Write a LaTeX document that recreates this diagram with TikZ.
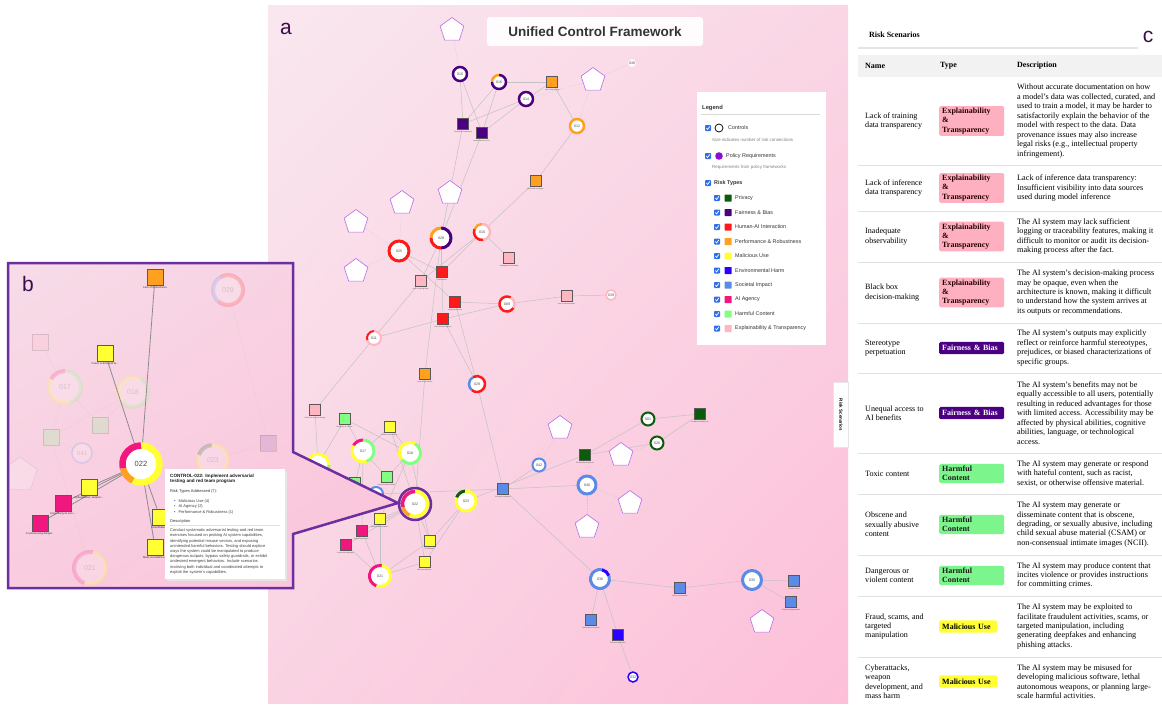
\documentclass[tikz,border=0pt]{standalone}
\usepackage{fontspec}
\setmainfont{Liberation Serif}
\setsansfont{Liberation Sans}
\usetikzlibrary{calc,shapes.geometric,positioning,shadings}
\pgfdeclarelayer{back}
\pgfdeclarelayer{aedges}
\pgfdeclarelayer{bback}
\pgfdeclarelayer{bedges}
\pgfdeclarelayer{bfront}
\pgfsetlayers{back,aedges,main,bback,bedges,bfront}

\definecolor{privacy}{HTML}{0A5C0A}
\definecolor{fairness}{HTML}{4B0082}
\definecolor{humanai}{HTML}{FF1A1A}
\definecolor{perf}{HTML}{FFA021}
\definecolor{malicious}{HTML}{FFFF33}
\definecolor{env}{HTML}{2B00FF}
\definecolor{societal}{HTML}{5B8BE6}
\definecolor{agency}{HTML}{F0177F}
\definecolor{harmful}{HTML}{80FF80}
\definecolor{explain}{HTML}{FFB6C1}
\definecolor{polline}{HTML}{B86BE8}
\definecolor{polfill}{HTML}{8A0FD6}
\definecolor{bframe}{HTML}{6B2FA0}
\definecolor{panellab}{HTML}{3A0B4E}
\definecolor{chkblue}{HTML}{2F6FE8}
\definecolor{exfill}{HTML}{FFB0C0}
\definecolor{hcfill}{HTML}{7DF58D}
\definecolor{pkA}{HTML}{F9E7EF}
\definecolor{pkB}{HTML}{FAD6E5}
\definecolor{pkC}{HTML}{FAD3E3}
\definecolor{pkD}{HTML}{FDBFD8}
\definecolor{pbA}{HTML}{F7DCE8}
\definecolor{pbB}{HTML}{F9CFE1}
\definecolor{pbC}{HTML}{F9CCDF}
\definecolor{pbD}{HTML}{FBC3DA}

% control node with a ring of risk colours
\newcommand{\ctrl}[6]{%
  \node[ctrlnode,minimum size=#3*2pt] (#1) at (#2) {#5};
  \foreach \sa/\ea/\cc in {#6}
    \draw[draw=\cc,line width=#4pt] ($(#1.center)+(\sa:#3pt)$) arc[start angle=\sa,end angle=\ea,radius=#3pt];}
\newcommand{\risk}[4]{%
  \node[risk,fill=#3] (#1) at (#2) {};
  \node[rlab,below=0.6pt of #1] (#1-lab) {#4};}
\newcommand{\chk}[1]{%
  \fill[chkblue,rounded corners=0.8pt] ($(#1)+(-3pt,-3pt)$) rectangle ($(#1)+(3pt,3pt)$);
  \draw[white,line width=0.7pt] ($(#1)+(-1.7pt,0pt)$) -- ($(#1)+(-0.4pt,-1.4pt)$) -- ($(#1)+(1.8pt,1.6pt)$);}
\newcommand{\riskrow}[6]{%
  \draw[rowline] (858,#2) -- (1162,#2);
  \node[namecell] (n#1) at (865,{(#1+#2)/2}) {#3};
  \node[#4] (t#1) at (939,{(#1+#2)/2}) {#5};
  \node[desccell] (d#1) at (1017,{(#1+#2)/2}) {#6};}

\begin{document}
\begin{tikzpicture}[x=1pt,y=-1pt,
  edge/.style={draw=black!24,line width=0.5pt},
  poledge/.style={draw=black!20,line width=0.5pt,densely dotted},
  bedge/.style={draw=black!45,line width=0.8pt},
  risk/.style={draw=black!65,line width=0.7pt,minimum size=11.5pt,inner sep=0pt},
  bigrisk/.style={risk,minimum size=16pt,line width=0.9pt},
  rlab/.style={font=\sffamily\fontsize{1.7}{2}\selectfont,text=black!70,inner sep=0.2pt},
  blab/.style={font=\sffamily\fontsize{2.7}{3}\selectfont,text=black!80,inner sep=0.3pt},
  policy/.style={regular polygon,regular polygon sides=5,draw=polline,fill=white,line width=0.6pt,minimum size=25pt,inner sep=0pt},
  ctrlnode/.style={circle,fill=white,inner sep=0pt,font=\sffamily\fontsize{3.6}{4}\selectfont,text=black!70},
  plab/.style={font=\sffamily\fontsize{21}{22}\selectfont,text=panellab,inner sep=0pt},
  legtext/.style={anchor=west,inner sep=0pt,font=\sffamily\fontsize{5.4}{6}\selectfont,text=black!80},
  legsub/.style={anchor=west,inner sep=0pt,font=\sffamily\fontsize{4.4}{5}\selectfont,text=black!50},
  tiptext/.style={anchor=north west,inner sep=0pt,align=left,font=\sffamily\fontsize{4}{5.2}\selectfont,text=black!80},
  rowline/.style={draw=black!12,line width=0.8pt},
  namecell/.style={anchor=west,inner sep=0pt,align=left,font=\fontsize{8.1}{9.45}\selectfont},
  desccell/.style={anchor=west,inner sep=0pt,align=left,font=\fontsize{8.2}{9.45}\selectfont},
  badge/.style={anchor=west,rounded corners=1.5pt,inner xsep=3pt,inner ysep=3.4pt,align=left,font=\bfseries\fontsize{8}{9.2}\selectfont},
  exbadge/.style={badge,inner ysep=2pt,fill=exfill,text=black!85!red,text width=59pt},
  fabadge/.style={badge,fill=fairness,text=white,text width=59pt},
  hcbadge/.style={badge,inner ysep=2.2pt,fill=hcfill,text=black!90,text width=59pt},
  mubadge/.style={badge,fill=malicious,text=black,text width=52pt}]

\useasboundingbox (0,0) rectangle (1162,705);

% ---------- panel a ----------
\begin{pgfonlayer}{back}
\fill[white] (0,0) rectangle (1162,705);
\shade[upper left=pkA,upper right=pkB,lower left=pkC,lower right=pkD] (268,5) rectangle (848,703);
\end{pgfonlayer}

\foreach \nm/\ps in {p1/{452,30},p2/{450,193},p3/{402,203},p4/{356,222},p5/{593,80},p6/{356,271},
  p7/{560,428},p8/{621,455},p9/{630,503},p10/{587,527},p11/{762,622}}
  {\node[policy] (\nm) at (\ps) {};}

\foreach \nm/\ps/\cl/\txt in {
  r1/{552,82}/perf/{Lack of monitoring},
  r2/{463,124}/fairness/{Stereotype perpetuation},
  r3/{482,133}/fairness/{Unequal access to AI...},
  r4/{536,181}/perf/{Model drift and degra...},
  r5/{442,272}/humanai/{Overreliance},
  r6/{421,281}/explain/{Lack of training data...},
  r7/{509,258}/explain/{Inadequate observability},
  r8/{455,302}/humanai/{Inappropriate trust},
  r9/{443,319}/humanai/{Loss of human agency},
  r10/{567,296}/explain/{Lack of inference data...},
  r11/{425,374}/perf/{Lack of Robustness},
  r12/{315,410}/explain/{Black box decision-making},
  r13/{345,419}/harmful/{Dangerous or violent...},
  r14/{390,427}/malicious/{Fraud, scams and ta...},
  r15/{387,477}/harmful/{Obscene and sexually...},
  r16/{355,483}/harmful/{Toxic content},
  r17/{380,519}/malicious/{Cyberattacks, weapon...},
  r18/{362,531}/agency/{AI pursuing its own ...},
  r19/{346,545}/agency/{AI possessing danger...},
  r20/{430,541}/malicious/{Coordinated...},
  r21/{425,562}/malicious/{Mass surveillance...},
  r22/{503,489}/societal/{Economic disruption},
  r23/{585,455}/privacy/{Personal data exposure},
  r24/{700,414}/privacy/{Unauthorized data use},
  r25/{680,588}/societal/{Power concentration},
  r26/{794,581}/societal/{Erosion of trust},
  r27/{791,602}/societal/{Cultural homogenization},
  r28/{591,620}/societal/{Information ecosystem},
  r29/{618,635}/env/{Environmental costs}}
  {\risk{\nm}{\ps}{\cl}{\txt}}

\ctrl{c015}{460,74}{7}{2.5}{015}{0/360/fairness}
\ctrl{c016}{499,82}{7}{2.5}{016}{90/180/perf,180/450/fairness}
\ctrl{c014}{526,99}{7}{2.5}{014}{0/360/fairness}
\ctrl{c012}{577,126}{7}{2.5}{012}{0/360/perf}
\ctrl{c038}{632,63}{4.5}{1}{038}{0/360/explain!50}
\ctrl{c028}{441,238}{10}{3}{028}{-90/90/fairness,90/180/perf,180/270/humanai}
\ctrl{c010}{482,232}{8}{2.5}{010}{90/160/perf,160/280/humanai,280/450/explain}
\ctrl{c025}{399,251}{10}{3}{025}{0/360/humanai}
\ctrl{c009}{507,304}{7.5}{2.5}{009}{60/330/humanai,-30/60/explain}
\ctrl{c011}{374,338}{7}{2}{011}{90/200/humanai,200/450/explain}
\ctrl{c039}{611,295}{5}{1.5}{039}{0/360/explain}
\ctrl{c029}{477,384}{8}{2.5}{029}{120/230/societal,230/480/humanai}
\ctrl{c017}{363,451}{11}{3}{017}{90/150/agency,150/290/malicious,290/450/harmful}
\ctrl{c018}{410,453}{10.5}{3}{018}{60/220/malicious,220/420/harmful}
\ctrl{c019}{318,465}{11}{3}{}{0/180/malicious,180/360/harmful}
\ctrl{c041}{376,494}{7}{2}{}{0/360/societal}
\ctrl{c022}{415,504}{12.5}{3.5}{022}{-116/90/malicious,-167/-116/perf,90/193/agency}
\draw[bframe,line width=2.5pt] (c022.center) circle[radius=16pt];
\ctrl{c023}{466,501}{10}{3}{023}{95/160/privacy,160/455/malicious}
\ctrl{c021}{380,576}{10.5}{3}{021}{80/250/agency,250/440/malicious}
\ctrl{c042}{539,465}{6.5}{2}{042}{0/360/societal}
\ctrl{c001}{648,419}{6.5}{2}{001}{0/360/privacy}
\ctrl{c026}{657,443}{6.5}{2}{026}{0/360/privacy}
\ctrl{c040}{587,485}{9}{3}{040}{0/360/societal}
\ctrl{c036}{600,579}{9.5}{3}{036}{20/80/env,80/380/societal}
\ctrl{c035}{752,580}{9.5}{3}{035}{0/360/societal}
\ctrl{c032}{633,677}{5}{1.5}{032}{0/360/env}

\begin{pgfonlayer}{aedges}
\foreach \u/\v in {c015/r2,c015/r3,c016/r2,c016/r3,c016/r1,c014/r2,c014/r3,c014/r1,c012/r1,c012/r4,
  c028/r2,c028/r3,c028/r5,c028/r9,c028/r6,c028/r11,c025/r5,c025/r8,c010/r4,c010/r5,c010/r6,c010/r7,
  c009/r8,c009/r9,c009/r10,c039/r10,c011/r6,c011/r9,c011/r12,c029/r8,c029/r9,c029/r22,
  c017/r13,c017/r14,c017/r15,c017/r16,c017/r18,c018/r13,c018/r14,c018/r15,c018/r17,c018/r20,
  c019/r12,c019/r13,c019/r16,c041/r22,c022/r11,c022/r14,c022/r17,c022/r18,c022/r19,c022/r20,c022/r21,
  c023/r20,c023/r21,c023/r23,c021/r17,c021/r18,c021/r19,c021/r20,c021/r21,c042/r22,c040/r22,
  c001/r23,c001/r24,c026/r24,c026/r23,c036/r22,c036/r25,c036/r28,c036/r29,c032/r29,
  c035/r25,c035/r26,c035/r27}
  \draw[edge] (\u) -- (\v);
\foreach \u/\v in {p1/c015,p5/c014,p5/c012,p5/c038,p2/c028,p3/c025,p4/c025,p6/c025,
  p7/c042,p8/c040,p8/c026,p9/c040,p10/c040,p11/c035}
  \draw[poledge] (\u) -- (\v);
\end{pgfonlayer}

\node[plab] (la) at (286,29) {a};
\node[fill=white,fill opacity=0.92,text opacity=1,rounded corners=3pt,minimum width=216pt,minimum height=29pt,
  font=\sffamily\bfseries\fontsize{13.5}{16}\selectfont,text=black!80] (title) at (595,31.5) {Unified Control Framework};

% legend
\fill[white] (697,92) rectangle (826,345);
\node[legtext,font=\sffamily\bfseries\fontsize{5.8}{6}\selectfont] (legt) at (702,108) {Legend};
\draw[black!15,line width=0.6pt] (701,114) -- (820,114);
\chk{708,128}
\draw[black!85,line width=0.9pt] (719,128) circle[radius=4pt];
\node[legtext] (lctrl) at (728,128) {Controls};
\node[legsub] (lsize) at (712,140) {Size indicates number of risk connections};
\chk{708,156}
\fill[polfill] (719,156) circle[radius=3.8pt];
\node[legtext] (lpol) at (726,156) {Policy Requirements};
\node[legsub] (lreq) at (712,167) {Requirements from policy frameworks};
\chk{708,183}
\node[legtext,font=\sffamily\bfseries\fontsize{5.4}{6}\selectfont] (lrisk) at (714,183) {Risk Types};
\foreach \cl/\txt [count=\i from 0] in {privacy/Privacy,fairness/Fairness \& Bias,humanai/Human-AI Interaction,
  perf/Performance \& Robustness,malicious/Malicious Use,env/Environmental Harm,societal/Societal Impact,
  agency/AI Agency,harmful/Harmful Content,explain/Explainability \& Transparency}{
  \pgfmathsetmacro\yy{198+14.5*\i}
  \chk{717,\yy}
  \fill[\cl,rounded corners=0.5pt] (724.5,\yy-3.5) rectangle (731.5,\yy+3.5);
  \node[legtext] (leg\i) at (735,\yy) {\txt};}

\node[draw=black!10,fill=white,rotate=-90,minimum width=65pt,minimum height=15pt,
  font=\sffamily\bfseries\fontsize{4.5}{5}\selectfont] (rstab) at (841,415) {Risk Scenarios};

% ---------- panel b ----------
\begin{pgfonlayer}{bback}
\shade[upper left=pbA,upper right=pbB,lower left=pbC,lower right=pbD]
  (8,263) -- (293,263) -- (293,452) -- (398,503) -- (293,534) -- (293,588) -- (8,588) -- cycle;
\draw[bframe,line width=2.5pt,line join=miter]
  (8,263) -- (293,263) -- (293,452) -- (398,503) -- (293,534) -- (293,588) -- (8,588) -- cycle;
\end{pgfonlayer}

\begin{pgfonlayer}{bedges}
\begin{scope}[opacity=0.2]
  \clip (10,265) rectangle (291,586);
  \node[bigrisk,fill=explain] (f1) at (40,342) {};
  \node[bigrisk,fill=harmful] (f2) at (100,425) {};
  \node[bigrisk,fill=harmful] (f3) at (51,437) {};
  \node[bigrisk,fill=fairness!60] (f4) at (268,443) {};
  \node[policy,minimum size=36pt] (f5) at (20,475) {};
  \ctrl{f017}{65,387}{16}{4}{\fontsize{7}{8}\selectfont 017}{90/150/agency,150/290/malicious,290/450/harmful}
  \ctrl{f018}{133,392}{15}{4}{\fontsize{7}{8}\selectfont 018}{60/220/malicious,220/420/harmful}
  \ctrl{f029}{228,290}{15}{4}{\fontsize{7}{8}\selectfont 029}{120/230/societal,230/480/humanai}
  \ctrl{f023}{213,460}{15}{4}{\fontsize{7}{8}\selectfont 023}{95/160/privacy,160/455/malicious}
  \ctrl{f021}{90,568}{16}{4}{\fontsize{7}{8}\selectfont 021}{80/250/agency,250/440/malicious}
  \ctrl{f041}{82,453}{10}{1.5}{\fontsize{6}{7}\selectfont 041}{0/360/societal}
  \foreach \u/\v in {f017/f1,f017/f2,f017/f3,f018/f2,f018/f3,f041/f3,f029/f4,f023/f4,f021/f3}
    \draw[edge] (\u) -- (\v);
\end{scope}
\end{pgfonlayer}

\begin{pgfonlayer}{bfront}
\ctrl{b022}{141,464}{18.5}{6.5}{\fontsize{7.5}{8}\selectfont 022}{-116/90/malicious,-167/-116/perf,90/193/agency}
\foreach \nm/\ps/\cl/\txt in {
  bq1/{155,277}/perf/{Lack of Robustness},
  bq2/{105,353}/malicious/{Fraud, scams and ta...},
  bq3/{89,487}/malicious/{Cyberattacks, weapon...},
  bq4/{63,503}/agency/{AI pursuing its own ...},
  bq5/{40,523}/agency/{AI possessing danger...},
  bq6/{160,517}/malicious/{Coordinated...},
  bq7/{155,547}/malicious/{Mass surveillance...}}
  {\node[bigrisk,fill=\cl] (\nm) at (\ps) {};
   \node[blab,below=1pt of \nm] (\nm-lab) {\txt};}
\end{pgfonlayer}
\begin{pgfonlayer}{bedges}
\foreach \v in {bq1,bq2,bq3,bq4,bq5,bq6,bq7}
  \draw[bedge] (b022) -- (\v);
\end{pgfonlayer}

\begin{pgfonlayer}{bfront}
\fill[black!10] (166.5,470.5) rectangle (286.5,580.5);
\fill[white] (165,469) rectangle (285,579);
\node[tiptext,font=\sffamily\bfseries\fontsize{4.6}{5.6}\selectfont,text=black!90] (tiptitle) at (170,473.5)
  {CONTROL-022: Implement adversarial\\testing and red team program};
\node[tiptext] (tiprisk) at (170,489.5) {Risk Types Addressed (7):};
\node[tiptext,text=black!75] (tipbul) at (174,499.5)
  {\textbullet\hspace{3pt}Malicious Use (4)\\\textbullet\hspace{3pt}AI Agency (2)\\\textbullet\hspace{3pt}Performance \& Robustness (1)};
\node[tiptext] (tipdesc) at (170,519.5) {Description};
\draw[black!12,line width=0.4pt] (170,525.5) -- (280,525.5);
\node[tiptext,text=black!75] (tippar) at (170,528.5)
  {Conduct systematic adversarial testing and red team\\
   exercises focused on probing AI system capabilities,\\
   identifying potential misuse vectors, and exposing\\
   unintended harmful behaviors. Testing should explore\\
   ways the system could be manipulated to produce\\
   dangerous outputs, bypass safety guardrails, or exhibit\\
   undesired emergent behaviors. Include scenarios\\
   involving both individual and coordinated attempts to\\
   exploit the system's capabilities.};
\node[plab] (lb) at (28,283.5) {b};
\end{pgfonlayer}

% ---------- panel c ----------
\node[anchor=west,inner sep=0pt,font=\bfseries\fontsize{8}{9}\selectfont] (rstitle) at (869,35) {Risk Scenarios};
\draw[black!10,line width=1.2pt] (858,48) -- (1138,48);
\node[plab] (lc) at (1148,37) {c};
\fill[black!5] (858,55) rectangle (1162,77);
\node[namecell,font=\bfseries\fontsize{8}{9}\selectfont] (hname) at (865,66) {Name};
\node[namecell,font=\bfseries\fontsize{8}{9}\selectfont] (htype) at (940,66) {Type};
\node[namecell,font=\bfseries\fontsize{8}{9}\selectfont] (hdesc) at (1017,66) {Description};

\riskrow{77}{165}{Lack of training\\data transparency}{exbadge}{Explainability\\\&\\Transparency}
  {Without accurate documentation on how\\a model's data was collected, curated, and\\used to train a model, it may be harder to\\satisfactorily explain the behavior of the\\model with respect to the data. Data\\provenance issues may also increase\\legal risks (e.g., intellectual property\\infringement).}
\riskrow{165}{211}{Lack of inference\\data transparency}{exbadge}{Explainability\\\&\\Transparency}
  {Lack of inference data transparency:\\Insufficient visibility into data sources\\used during model inference}
\riskrow{211}{262}{Inadequate\\observability}{exbadge}{Explainability\\\&\\Transparency}
  {The AI system may lack sufficient\\logging or traceability features, making it\\difficult to monitor or audit its decision-\\making process after the fact.}
\riskrow{262}{323}{Black box\\decision-making}{exbadge}{Explainability\\\&\\Transparency}
  {The AI system's decision-making process\\may be opaque, even when the\\architecture is known, making it difficult\\to understand how the system arrives at\\its outputs or recommendations.}
\riskrow{323}{373}{Stereotype\\perpetuation}{fabadge}{Fairness \& Bias}
  {The AI system's outputs may explicitly\\reflect or reinforce harmful stereotypes,\\prejudices, or biased characterizations of\\specific groups.}
\riskrow{373}{453}{Unequal access to\\AI benefits}{fabadge}{Fairness \& Bias}
  {The AI system's benefits may not be\\equally accessible to all users, potentially\\resulting in reduced advantages for those\\with limited access. Accessibility may be\\affected by physical abilities, cognitive\\abilities, language, or technological\\access.}
\riskrow{453}{494}{Toxic content}{hcbadge}{Harmful\\Content}
  {The AI system may generate or respond\\with hateful content, such as racist,\\sexist, or otherwise offensive material.}
\riskrow{494}{555}{Obscene and\\sexually abusive\\content}{hcbadge}{Harmful\\Content}
  {The AI system may generate or\\disseminate content that is obscene,\\degrading, or sexually abusive, including\\child sexual abuse material (CSAM) or\\non-consensual intimate images (NCII).}
\riskrow{555}{596}{Dangerous or\\violent content}{hcbadge}{Harmful\\Content}
  {The AI system may produce content that\\incites violence or provides instructions\\for committing crimes.}
\riskrow{596}{657}{Fraud, scams, and\\targeted\\manipulation}{mubadge}{Malicious Use}
  {The AI system may be exploited to\\facilitate fraudulent activities, scams, or\\targeted manipulation, including\\generating deepfakes and enhancing\\phishing attacks.}
\riskrow{657}{706}{Cyberattacks,\\weapon\\development, and\\mass harm}{mubadge}{Malicious Use}
  {The AI system may be misused for\\developing malicious software, lethal\\autonomous weapons, or planning large-\\scale harmful activities.}
\end{tikzpicture}
\end{document}
